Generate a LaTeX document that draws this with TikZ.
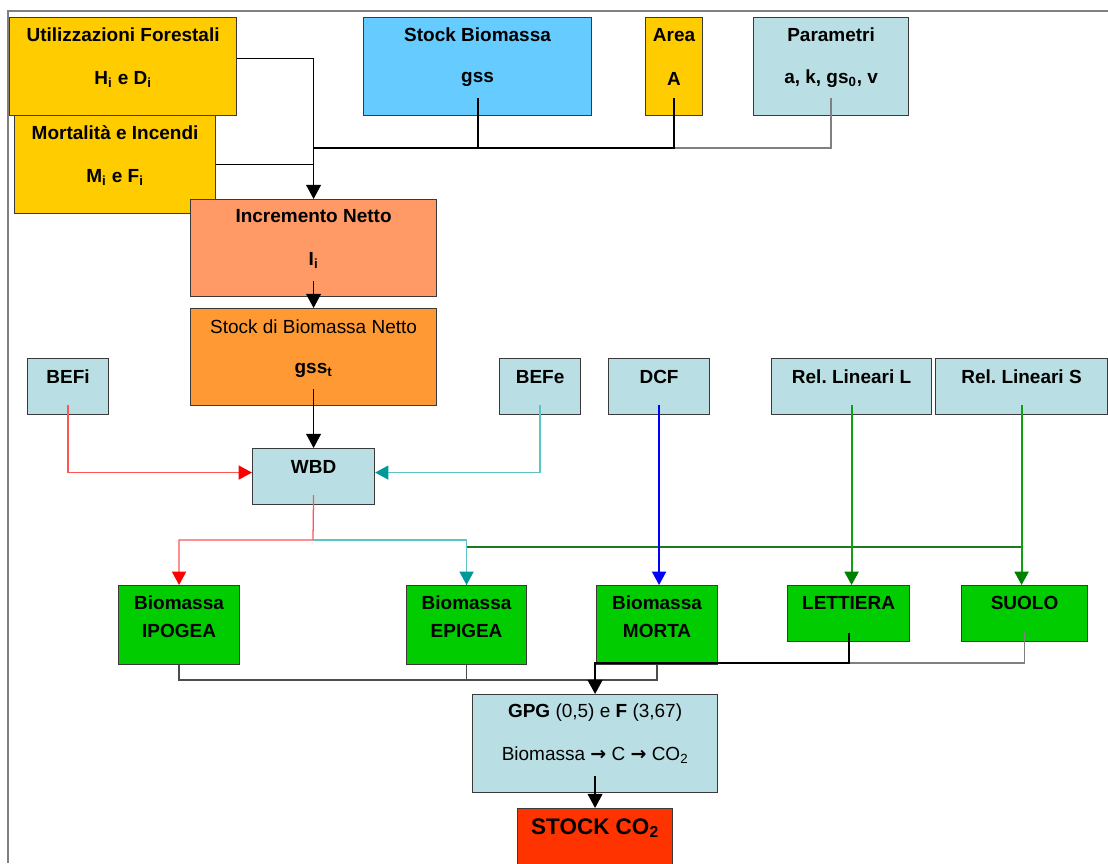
\documentclass[tikz,border=0pt]{standalone}
\usepackage{fontspec}
\setmainfont{Liberation Sans}
\newfontfamily\arrowfont{DejaVu Sans}
\usepackage{xcolor}
\usepackage{tikz}
\usetikzlibrary{arrows.meta,positioning,calc}
\frenchspacing

\definecolor{gold}{HTML}{FFCC00}
\definecolor{sky}{HTML}{66CCFF}
\definecolor{pale}{HTML}{B9DFE4}
\definecolor{salmon}{HTML}{FF9966}
\definecolor{amber}{HTML}{FF9933}
\definecolor{leaf}{HTML}{00CC00}
\definecolor{flame}{HTML}{FF3300}
\definecolor{boxline}{HTML}{3A3A3A}
\definecolor{tealtip}{HTML}{009999}
\definecolor{tealline}{HTML}{5CC4C4}
\definecolor{redline}{HTML}{FF5555}
\definecolor{grn}{HTML}{008000}
\definecolor{grnline}{HTML}{10A010}
\definecolor{grndark}{HTML}{1E7A1E}

\tikzset{
  box/.style={draw=boxline, line width=0.8pt, inner sep=0pt, anchor=north west},
  wh/.style 2 args={minimum width=#1*0.025cm, minimum height=#2*0.025cm},
  lab/.style={font=\fontsize{13.5}{16}\selectfont\bfseries, inner sep=0pt},
  labn/.style={font=\fontsize{13.5}{16}\selectfont, inner sep=0pt},
  conn/.style={line width=0.9pt},
  arrowhd/.style={-{Triangle[length=10pt,width=10.5pt]}},
  arrowc/.style={-{Triangle[length=9.5pt,width=10pt,color=#1]}},
}

\begin{document}
\begin{tikzpicture}[x=0.025cm, y=-0.025cm]
\useasboundingbox (0,0) rectangle (1108,863);
\clip (0,0) rectangle (1108,863);

% page frame
\draw[gray, line width=1pt] (8,863) -- (8,11) -- (1108,11);

% top row
\node[box, fill=gold, wh={201}{98}] (mort) at (14,115) {};
\node[box, fill=gold, wh={227}{98}] (util) at (9,17) {};
\node[box, fill=sky, wh={228}{98}] (gss) at (363,17) {};
\node[box, fill=gold, wh={57}{98}] (area) at (645,17) {};
\node[box, fill=pale, wh={155}{98}] (par) at (753,17) {};

\node[lab] (utilA) at ([yshift=-4.5mm]util.north) {Utilizzazioni Forestali};
\node[lab] (utilB) at ([yshift=-15.5mm]util.north) {H\textsubscript{i} e D\textsubscript{i}};
\node[lab] (mortA) at ([yshift=-4.5mm]mort.north) {Mortalità e Incendi};
\node[lab] (mortB) at ([yshift=-15.5mm]mort.north) {M\textsubscript{i} e F\textsubscript{i}};
\node[lab] (gssA) at ([yshift=-4.5mm]gss.north) {Stock Biomassa};
\node[lab] (gssB) at ([yshift=-15.5mm]gss.north) {gss};
\node[lab] (areaA) at ([yshift=-4.5mm]area.north) {Area};
\node[lab] (areaB) at ([yshift=-15.5mm]area.north) {A};
\node[lab] (parA) at ([yshift=-4.5mm]par.north) {Parametri};
\node[lab] (parB) at ([yshift=-15.5mm]par.north) {a, k, gs\textsubscript{0}, v};

% increment and net stock
\node[box, fill=salmon, wh={246}{97}] (incr) at (190,199) {};
\node[box, fill=amber, wh={246}{97}] (net) at (190,308) {};
\node[lab] (incrA) at ([yshift=-4.25mm]incr.north) {Incremento Netto};
\node[lab] (incrB) at ([yshift=-15.25mm]incr.north) {I\textsubscript{i}};
\node[labn] (netA) at ([yshift=-4.75mm]net.north) {Stock di Biomassa Netto};
\node[lab] (netB) at ([yshift=-15.5mm]net.north) {gss\textsubscript{t}};

% factors
\node[box, fill=pale, wh={81}{56}] (befi) at (27,358) {};
\node[box, fill=pale, wh={81}{56}] (befe) at (499,358) {};
\node[box, fill=pale, wh={101}{56}] (dcf) at (608,358) {};
\node[box, fill=pale, wh={160}{56}] (rell) at (771,358) {};
\node[box, fill=pale, wh={172}{56}] (rels) at (935,358) {};
\node[box, fill=pale, wh={122}{56}] (wbd) at (252,448) {};
\node[lab] (befiA) at ([yshift=-4.75mm]befi.north) {BEFi};
\node[lab] (befeA) at ([yshift=-4.75mm]befe.north) {BEFe};
\node[lab] (dcfA) at ([yshift=-4.75mm]dcf.north) {DCF};
\node[lab] (rellA) at ([yshift=-4.75mm]rell.north) {Rel. Lineari L};
\node[lab] (relsA) at ([yshift=-4.75mm]rels.north) {Rel. Lineari S};
\node[lab] (wbdA) at ([yshift=-4.75mm]wbd.north) {WBD};

% pools
\node[box, fill=leaf, wh={121}{79}] (ipo) at (118,585) {};
\node[box, fill=leaf, wh={120}{79}] (epi) at (406,585) {};
\node[box, fill=leaf, wh={121}{79}] (morta) at (596,585) {};
\node[box, fill=leaf, wh={122}{56}] (lett) at (787,585) {};
\node[box, fill=leaf, wh={126}{56}] (suolo) at (961,585) {};
\node[lab, align=center, font=\fontsize{13.5}{20}\selectfont\bfseries] (ipoA) at ([yshift=-8mm]ipo.north) {Biomassa\\IPOGEA};
\node[lab, align=center, font=\fontsize{13.5}{20}\selectfont\bfseries] (epiA) at ([yshift=-8mm]epi.north) {Biomassa\\EPIGEA};
\node[lab, align=center, font=\fontsize{13.5}{20}\selectfont\bfseries] (mortaA) at ([yshift=-8mm]morta.north) {Biomassa\\MORTA};
\node[lab] (lettA) at ([yshift=-4.5mm]lett.north) {LETTIERA};
\node[lab] (suoloA) at ([yshift=-4.5mm]suolo.north) {SUOLO};

% conversion and result
\node[box, fill=pale, wh={245}{98}] (gpg) at (472,694) {};
\node[box, fill=flame, wh={155}{70}] (stock) at (517,808) {};
\node[labn] (gpgA) at ([yshift=-4.75mm]gpg.north) {\textbf{GPG} (0,5) e \textbf{F} (3,67)};
\node[labn] (gpgB) at ([yshift=-15.25mm]gpg.north) {Biomassa {\arrowfont\bfseries →} C {\arrowfont\bfseries →} CO\textsubscript{2}};
\node[lab, font=\fontsize{16}{19}\selectfont\bfseries] (stockA) at ([yshift=-5mm]stock.north) {STOCK CO\textsubscript{2}};

% connectors to the increment
\coordinate (hub) at (313,148);
\draw[conn, arrowhd] ([yshift=2mm]util.east) -| (incr.north);
\draw[conn] (mort.east) -- (mort.east -| incr.north);
\draw[conn, gray] ([yshift=4.5mm]par.south) |- (area.south |- hub);
\draw[conn, line width=1.1pt] ([yshift=4.5mm]area.south) |- (gss.south |- hub);
\draw[conn, line width=1.4pt] ([yshift=4.5mm]gss.south) |- (hub);
\draw[conn, arrowhd] ([yshift=4mm]incr.south) -- (net.north);
\draw[conn, arrowhd] ([yshift=4.25mm]net.south) -- (wbd.north);

% factors to WBD
\draw[conn, redline, arrowc=red] ([yshift=2.5mm]befi.south) |- ([yshift=1mm]wbd.west);
\draw[conn, tealline, arrowc=tealtip] ([yshift=2.5mm]befe.south) |- ([yshift=1mm]wbd.east);

% WBD and relations to the pools
\coordinate (split) at (313,540);
\coordinate (glev) at (466,547);
\draw[conn, grndark, line width=1.3pt] ([yshift=2.5mm]rels.south) |- (epi.north |- glev) -- (epi.north);
\draw[conn, redline, arrowc=red] ([yshift=2.5mm]wbd.south) -- (split) -| (ipo.north);
\draw[conn, tealline, arrowc=tealtip] (split) -| (epi.north);
\draw[conn, grnline, line width=1.4pt, arrowc=grn] ([yshift=2.5mm]rels.south) -- (suolo.north -| rels.south);
\draw[conn, grnline, line width=1.4pt, arrowc=grn] ([yshift=2.5mm]rell.south) -- (lett.north -| rell.south);
\draw[conn, blue, arrowc=blue] ([yshift=2.5mm]dcf.south) -- (dcf.south |- morta.north);

% pools to conversion
\coordinate (blev) at (178,680);
\coordinate (mlev) at (596,663);
\draw[conn, black!70] (ipo.south) |- (morta.south |- blev) -- (morta.south);
\draw[conn, black!70] (epi.south) -- (epi.south |- blev);
\draw[conn, black!50] ([yshift=2.5mm]suolo.south) |- (lett.south |- mlev);
\draw[conn, line width=1.4pt, arrowhd] ([yshift=2.25mm]lett.south) |- (gpg.north |- mlev) -- (gpg.north);
\draw[conn, arrowhd] ([yshift=4.25mm]gpg.south) -- (stock.north);
\end{tikzpicture}
\end{document}
